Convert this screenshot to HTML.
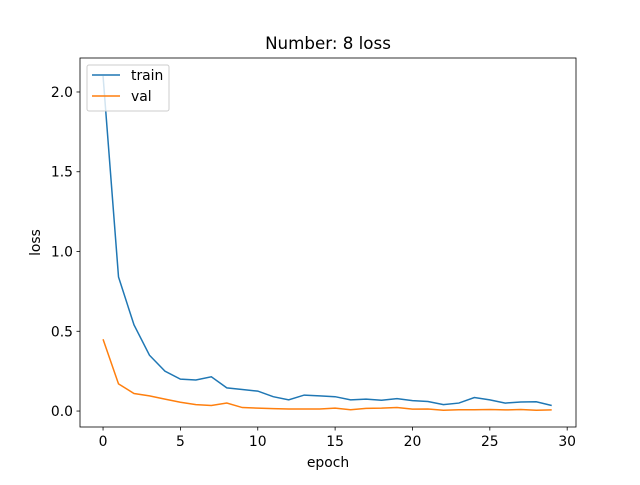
<!DOCTYPE html>
<html><head><meta charset="utf-8"><style>body{margin:0;background:#fff}svg{font-family:"DejaVu Sans","Liberation Sans",sans-serif}</style></head>
<body>
<svg id="chart" width="640" height="480" xmlns="http://www.w3.org/2000/svg"></svg>
<script>
const epochs = Array.from({length:30},(_,i)=>i);
const trainLoss = [2.1,0.84,0.54,0.35,0.25,0.20,0.195,0.215,0.145,0.135,0.125,0.09,0.07,0.10,0.095,0.09,0.07,0.075,0.068,0.078,0.065,0.06,0.04,0.05,0.085,0.07,0.05,0.057,0.058,0.035];
const valLoss = [0.45,0.17,0.11,0.095,0.075,0.055,0.04,0.035,0.05,0.022,0.018,0.015,0.013,0.013,0.013,0.018,0.008,0.017,0.018,0.022,0.012,0.013,0.005,0.008,0.008,0.01,0.007,0.01,0.005,0.007];
const xTicks = [0,5,10,15,20,25,30];
const yTicks = [0.0,0.5,1.0,1.5,2.0];
const L=80,R=576,T=58,B=427;
const xMin=-1.49,xMax=30.57,yMin=-0.1,yMax=2.213;
const sx=v=>L+(v-xMin)/(xMax-xMin)*(R-L);
const sy=v=>B-(v-yMin)/(yMax-yMin)*(B-T);
const svg=document.getElementById('chart');
const NS='http://www.w3.org/2000/svg';
function mk(tag,attrs,name,text){const e=document.createElementNS(NS,tag);for(const k in attrs)e.setAttribute(k,attrs[k]);


if(text!==undefined)e.textContent=text;svg.appendChild(e);return e;}
mk('rect',{x:L,y:T,width:R-L,height:B-T,fill:'#fff',stroke:'none'},'plot-area');
function line(data,color,name){mk('polyline',{points:data.map((v,i)=>sx(epochs[i])+','+sy(v)).join(' '),fill:'none',stroke:color,'stroke-width':1.5},name);}
line(trainLoss,'#1f77b4','train-line');
line(valLoss,'#ff7f0e','val-line');
mk('rect',{x:L,y:T,width:R-L,height:B-T,fill:'none',stroke:'#000','stroke-width':0.8},'axes-frame');
xTicks.forEach(t=>{const x=sx(t);mk('line',{x1:x,x2:x,y1:B,y2:B+3.5,stroke:'#000','stroke-width':0.8},'x-tick');
mk('text',{x:x,y:B+19,'text-anchor':'middle','font-size':13.9},'x-tick-label',String(t));});
yTicks.forEach(t=>{const y=sy(t);mk('line',{x1:L-3.5,x2:L,y1:y,y2:y,stroke:'#000','stroke-width':0.8},'y-tick');
mk('text',{x:L-7,y:y+5,'text-anchor':'end','font-size':13.9},'y-tick-label',t.toFixed(1));});
mk('text',{x:(L+R)/2,y:49,'text-anchor':'middle','font-size':16.7},'chart-title','Number: 8 loss');
mk('text',{x:(L+R)/2,y:467,'text-anchor':'middle','font-size':13.9},'x-axis-title','epoch');
mk('text',{x:40,y:(T+B)/2,'text-anchor':'middle','font-size':13.9,transform:'rotate(-90 40 '+((T+B)/2)+')'},'y-axis-title','loss');
mk('rect',{x:87,y:65,width:82,height:46,rx:2,fill:'#fff','fill-opacity':0.8,stroke:'#ccc'},'legend-box');
mk('line',{x1:92,x2:120,y1:75,y2:75,stroke:'#1f77b4','stroke-width':1.5},'legend-train-swatch');
mk('text',{x:131,y:80,'font-size':13.9},'legend-train-label','train');
mk('line',{x1:92,x2:120,y1:96,y2:96,stroke:'#ff7f0e','stroke-width':1.5},'legend-val-swatch');
mk('text',{x:131,y:101,'font-size':13.9},'legend-val-label','val');
</script>
</body></html>
